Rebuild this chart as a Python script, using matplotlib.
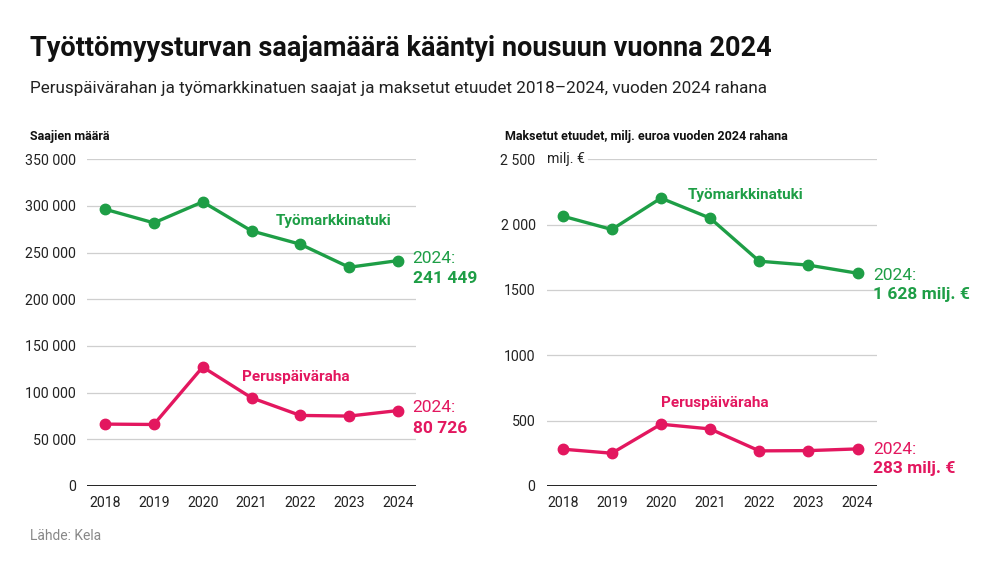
import matplotlib
matplotlib.use("Agg")
import matplotlib.pyplot as plt

plt.rcParams['font.family'] = ['Roboto', 'DejaVu Sans']

years = [2018, 2019, 2020, 2021, 2022, 2023, 2024]

# saajien maara
saajat_tmt = [296500, 281900, 304400, 273300, 259000, 234300, 241449]
saajat_ppr = [66200, 65800, 127400, 94400, 75500, 74800, 80726]

# maksetut etuudet, milj. euroa
euro_tmt = [2065, 1963, 2203, 2050, 1720, 1690, 1628]
euro_ppr = [281, 250, 472, 436, 268, 270, 283]

left_ticks = [0, 50000, 100000, 150000, 200000, 250000, 300000, 350000]
left_ticklabels = ['0', '50 000', '100 000', '150 000', '200 000', '250 000', '300 000', '350 000']
right_ticks = [0, 500, 1000, 1500, 2000, 2500]
right_ticklabels = ['0', '500', '1000', '1500', '2 000', '2 500']

green = '#1e9e46'
pink = '#e3175f'
grid_c = '#cfcfcf'

fig = plt.figure(figsize=(10, 5.63), dpi=100)

ax1 = fig.add_axes([0.087, 0.137, 0.329, 0.58])
ax2 = fig.add_axes([0.5467, 0.137, 0.33, 0.58])


def style(ax, ticks, labels, ymax, xl, xr):
    ax.set_xlim(xl, xr)
    ax.set_ylim(0, ymax)
    for s in ax.spines.values():
        s.set_visible(False)
    ax.set_yticks(ticks)
    ax.set_yticklabels(labels)
    ax.set_xticks(years)
    ax.tick_params(axis='both', length=0, labelsize=10.2, colors='#222222')
    ax.tick_params(axis='y', pad=8)
    ax.tick_params(axis='x', pad=7)
    ax.axhline(0, color='#111111', lw=1.3, zorder=2)


style(ax1, left_ticks, left_ticklabels, 350000, 2017.63, 2024.37)
style(ax2, right_ticks, right_ticklabels, 2500, 2017.675, 2024.39)

for t in left_ticks[1:]:
    ax1.axhline(t, color=grid_c, lw=0.9, zorder=1)
for t in right_ticks[1:-1]:
    ax2.axhline(t, color=grid_c, lw=0.9, zorder=1)
ax2.axhline(2500, xmin=0.124, color=grid_c, lw=0.9, zorder=1)
ax2.text(2017.675, 2500, 'milj. €', fontsize=10.2, color='#222222', va='center', ha='left')

for ax, a, b in [(ax1, saajat_tmt, saajat_ppr), (ax2, euro_tmt, euro_ppr)]:
    ax.plot(years, a, color=green, lw=2.4, marker='o', ms=7.5, zorder=3, clip_on=False)
    ax.plot(years, b, color=pink, lw=2.4, marker='o', ms=7.5, zorder=3, clip_on=False)

# series labels
ax1.text(2021.5, 284000, 'Työmarkkinatuki', color=green, fontsize=11, fontweight='bold', va='center')
ax1.text(2020.8, 116700, 'Peruspäiväraha', color=pink, fontsize=11, fontweight='bold', va='center')
ax2.text(2020.55, 2227, 'Työmarkkinatuki', color=green, fontsize=11, fontweight='bold', va='center')
ax2.text(2020.0, 638, 'Peruspäiväraha', color=pink, fontsize=11, fontweight='bold', va='center')

# end labels
def end_label(ax, y1, y2, x, txt, col):
    ax.text(x, y1, '2024:', color=col, fontsize=12.5, va='center', ha='left', clip_on=False)
    ax.text(x, y2, txt, color=col, fontsize=12.5, fontweight='bold', va='center', ha='left', clip_on=False)

end_label(ax1, 244000, 222500, 2024.3, '241 449', green)
end_label(ax1, 83500, 61700, 2024.3, '80 726', pink)
end_label(ax2, 1614, 1462, 2024.31, '1 628 milj. €', green)
end_label(ax2, 281, 135, 2024.31, '283 milj. €', pink)

fig.text(0.03, 0.914, 'Työttömyysturvan saajamäärä kääntyi nousuun vuonna 2024',
         fontsize=19.5, fontweight='bold', color='#111111', va='center')
fig.text(0.03, 0.843, 'Peruspäivärahan ja työmarkkinatuen saajat ja maksetut etuudet 2018–2024, vuoden 2024 rahana',
         fontsize=12.3, color='#222222', va='center')
fig.text(0.03, 0.757, 'Saajien määrä', fontsize=9, fontweight='bold', color='#111111', va='center')
fig.text(0.505, 0.757, 'Maksetut etuudet, milj. euroa vuoden 2024 rahana', fontsize=9,
         fontweight='bold', color='#111111', va='center')
fig.text(0.03, 0.048, 'Lähde: Kela', fontsize=10, color='#888888', va='center')

fig.savefig('out.png', dpi=100)
